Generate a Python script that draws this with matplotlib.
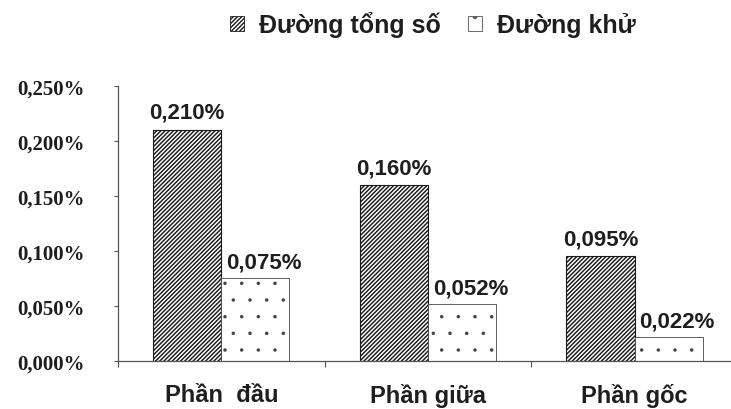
import matplotlib
matplotlib.use("Agg")
import matplotlib.pyplot as plt
import numpy as np
from matplotlib.patches import Patch

# Sugar content by part (percent)
categories = ["Phần  đầu", "Phần giữa", "Phần gốc"]
total_sugar = [0.210, 0.160, 0.095]
reducing_sugar = [0.075, 0.052, 0.022]
series_names = ["Đường tổng số", "Đường khử"]
y_ticks = [0.000, 0.050, 0.100, 0.150, 0.200, 0.250]


def pct(v):
    return f"{v:.3f}%".replace(".", ",")


text_color = "#1e1e1e"
sans = ["Liberation Sans", "DejaVu Sans"]
serif = ["Liberation Serif", "DejaVu Serif"]

fig = plt.figure(figsize=(7.31, 4.10), dpi=100)
ax = fig.add_axes([0.1614, 0.117, 0.848, 0.671])

x = np.arange(len(categories))
w = 0.33
stripe = "////////"
dots = "."

# dense diagonal stripes for total sugar, sparse fine dots for reducing sugar
with plt.rc_context({"hatch.linewidth": 1.05}):
    ax.bar(x - w / 2, total_sugar, width=w, facecolor="white", edgecolor="#1a1a1a",
           hatch=stripe, linewidth=0.8)
    stripe_handle = Patch(facecolor="white", edgecolor="#1a1a1a", hatch=stripe,
                          linewidth=0.6)
with plt.rc_context({"hatch.linewidth": 0.1}):
    ax.bar(x + w / 2, reducing_sugar, width=w, facecolor="white", edgecolor="#444444",
           hatch=dots, linewidth=0.6)
    dot_handle = Patch(facecolor="white", edgecolor="#555555", hatch=dots,
                       linewidth=0.6)

for xi, v in zip(x - w / 2, total_sugar):
    ax.annotate(pct(v), (xi, v), xytext=(0, 5), textcoords="offset points",
                ha="center", va="bottom", fontsize=16, fontweight="bold",
                family=sans, color=text_color)
for xi, v in zip(x + w / 2, reducing_sugar):
    ax.annotate(pct(v), (xi, v), xytext=(6, 4), textcoords="offset points",
                ha="center", va="bottom", fontsize=16, fontweight="bold",
                family=sans, color=text_color)

ax.set_xlim(-0.5, len(categories) - 0.5)
ax.set_ylim(0, 0.25)

ax.set_yticks(y_ticks)
ax.set_yticklabels([pct(t) for t in y_ticks], family=serif, fontweight="bold",
                   fontsize=15, color=text_color)
ax.tick_params(axis="y", length=3, width=0.8, color="#555555", pad=21)

ax.set_xticks(x)
ax.set_xticklabels(categories, family=sans, fontweight="bold", fontsize=17,
                   color=text_color)
ax.tick_params(axis="x", which="major", length=0, pad=15.5)
ax.set_xticks(np.arange(len(categories) + 1) - 0.5, minor=True)
ax.tick_params(axis="x", which="minor", length=4.5, width=0.8, color="#555555")

for s in ["top", "right"]:
    ax.spines[s].set_visible(False)
for s in ["left", "bottom"]:
    ax.spines[s].set_color("#555555")
    ax.spines[s].set_linewidth(0.9)

fig.legend([stripe_handle, dot_handle], series_names, loc="center",
           bbox_to_anchor=(0.5925, 0.939), ncol=2, frameon=False,
           handlelength=0.55, handleheight=0.55, handletextpad=0.6,
           columnspacing=1.1,
           prop={"family": sans, "weight": "bold", "size": 18},
           labelcolor=text_color)

fig.savefig("out.png", dpi=100, facecolor="white")
